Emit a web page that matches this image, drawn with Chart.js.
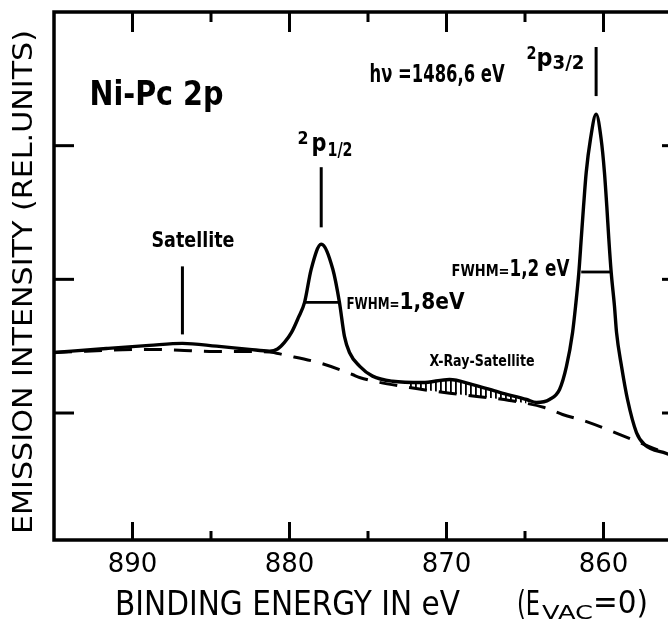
<!DOCTYPE html>
<html><head><meta charset="utf-8">
<script src="https://cdn.jsdelivr.net/npm/chart.js@4.4.1/dist/chart.umd.min.js"></script>
<style>
html,body{margin:0;padding:0;background:#fff;overflow:hidden;width:668px;height:620px;}
#wrap{position:absolute;left:0;top:0;width:700px;height:620px;}
</style></head><body>
<div id="wrap"><canvas id="c" width="700" height="620"></canvas></div>
<script>
// ---- data ----
const spectrumEnergy = [895.0,891.66,888.92,886.82,884.65,882.55,881.27,880.76,880.32,879.87,879.43,879.04,878.62,877.98,877.24,876.82,876.50,876.18,875.54,874.71,873.44,871.53,869.81,868.34,866.62,864.90,864.27,863.44,862.80,862.36,861.97,861.78,861.57,861.42,861.27,861.10,860.83,860.47,860.15,859.94,859.79,859.66,859.51,859.30,859.17,858.85,858.47,857.90,857.39,855.99,855.03];
const spectrumIntensity = [1.453,1.483,1.506,1.521,1.500,1.476,1.463,1.479,1.528,1.603,1.715,1.828,2.075,2.262,2.075,1.828,1.573,1.453,1.351,1.276,1.238,1.228,1.251,1.213,1.154,1.101,1.079,1.101,1.176,1.348,1.603,1.798,2.052,2.300,2.547,2.801,3.049,3.236,3.049,2.801,2.547,2.300,2.052,1.798,1.603,1.348,1.101,0.854,0.764,0.697,0.652];
const backgroundEnergy = [895.0,888.92,887.0,885.1,883.18,881.27,880.32,878.09,875.99,875.54,872.36,869.17,865.99,863.76,862.61,861.08,859.11,857.39,855.99,855.03];
const backgroundIntensity = [1.453,1.476,1.470,1.461,1.461,1.457,1.434,1.375,1.288,1.266,1.191,1.139,1.094,1.041,0.989,0.936,0.846,0.764,0.697,0.652];
const xraySatEnergy = [872.36,871.53,869.81,868.34,866.62,864.90];
const xraySatIntensity = [1.228,1.228,1.251,1.213,1.154,1.101];
const xTickValues = [890,880,870,860];
const xTickLabels = ['890','880','870','860'];
const xMinorTicks = [885,875,865];
const yTickValues = [1,2,3];
const peakMarkers = [ // [energy, from, to]
  [877.98, 2.839, 2.389],
  [886.82, 2.097, 1.588],
  [860.47, 3.738, 3.371]
];
const fwhmBars = [ // [intensity, energy1, energy2]
  [2.055, 861.42, 859.57],
  [1.828, 879.04, 876.82]
];
const notes = [ // text, energy, intensity (baseline-left anchor)
  ['Ni-Pc 2p', 892.74, 3.303],
  ['Satellite', 888.79, 2.240],
  ['h\u03bd =1486,6 eV', 874.90, 3.476],
  ['FWHM=', 869.68, 2.022],
  ['1,2 eV', 865.99, 2.022],
  ['FWHM=', 876.37, 1.775],
  ['1,8eV', 872.99, 1.775],
  ['X-Ray-Satellite', 871.08, 1.348],
  ['2', 879.49, 3.011],
  ['p', 878.60, 2.959],
  ['1/2', 877.58, 2.921],
  ['2', 864.90, 3.648],
  ['p', 864.27, 3.596],
  ['3/2', 863.25, 3.573]
];
// ---- styles for notes (font px, fitted width px) ----
const noteStyle = [[33,134],[22,83],[24,135],[16,58],[23,60],[16,53],[23,65],[15,105],[18,11],[25,15],[19,25],[18,10],[25,16],[19,32]];

const FAM = '"DejaVu Sans Condensed","DejaVu Sans",sans-serif';
const FAMR = '"DejaVu Sans",sans-serif';

function fitText(ctx, s, x, y, font, w) {
  ctx.font = font;
  const m = ctx.measureText(s).width;
  const sx = w ? w / m : 1;
  ctx.save(); ctx.translate(x, y); ctx.scale(sx, 1);
  ctx.textAlign = 'left'; ctx.textBaseline = 'alphabetic';
  ctx.fillText(s, 0, 0); ctx.restore();
}

const canvas = document.getElementById('c');
const pc = document.createElement('canvas'); pc.width = 5; pc.height = 8;
const pg = pc.getContext('2d'); pg.fillStyle = '#000'; pg.fillRect(0, 0, 1.8, 8);
const hatch = canvas.getContext('2d').createPattern(pc, 'repeat');

const decor = {
  id: 'decor',
  afterDatasetsDraw(chart) {
    const ctx = chart.ctx, a = chart.chartArea, xs = chart.scales.x, ys = chart.scales.y;
    ctx.save();
    ctx.strokeStyle = '#000'; ctx.fillStyle = '#000'; ctx.lineCap = 'butt';
    // frame
    ctx.lineWidth = 3.5;
    ctx.strokeRect(a.left, a.top, a.right - a.left, a.bottom - a.top);
    // ticks
    ctx.lineWidth = 3;
    const line = (x1, y1, x2, y2) => { ctx.beginPath(); ctx.moveTo(x1, y1); ctx.lineTo(x2, y2); ctx.stroke(); };
    xs.ticks.forEach(t => { const x = xs.getPixelForValue(t.value); line(x, a.bottom, x, a.bottom - 18); line(x, a.top, x, a.top + 20); });
    xMinorTicks.forEach(v => { const x = xs.getPixelForValue(v); line(x, a.bottom, x, a.bottom - 9); line(x, a.top, x, a.top + 10); });
    yTickValues.forEach(v => { const y = ys.getPixelForValue(v); line(a.left, y, a.left + 20, y); line(a.right, y, a.right - 20, y); });
    // markers
    peakMarkers.forEach(m => { const x = xs.getPixelForValue(m[0]); line(x, ys.getPixelForValue(m[1]), x, ys.getPixelForValue(m[2])); });
    ctx.lineWidth = 2.8;
    fwhmBars.forEach(b => { const y = ys.getPixelForValue(b[0]); line(xs.getPixelForValue(b[1]), y, xs.getPixelForValue(b[2]), y); });
    // tick labels
    xs.ticks.forEach((t, i) => {
      ctx.font = '26px ' + FAMR; ctx.textAlign = 'center'; ctx.textBaseline = 'alphabetic';
      ctx.fillText(xTickLabels[i], xs.getPixelForValue(t.value), a.bottom + 32);
    });
    // notes
    notes.forEach((n, i) => {
      const st = noteStyle[i];
      fitText(ctx, n[0], xs.getPixelForValue(n[1]), ys.getPixelForValue(n[2]), 'bold ' + st[0] + 'px ' + FAM, st[1]);
    });
    // axis titles
    ctx.save(); ctx.translate(32, 534); ctx.rotate(-Math.PI / 2);
    fitText(ctx, 'EMISSION INTENSITY (REL.UNITS)', 0, 0, '27px ' + FAMR, 504);
    ctx.restore();
    fitText(ctx, 'BINDING ENERGY IN eV', 115, 615, '34px ' + FAMR, 345);
    fitText(ctx, '(E', 517, 615, '34px ' + FAMR, 23);
    fitText(ctx, 'VAC', 542, 619, '20px ' + FAMR, 51);
    fitText(ctx, '=0)', 593, 613, '32px ' + FAMR, 55);
    ctx.restore();
  }
};

const pts = (xa, ya) => xa.map((e, i) => ({ x: e, y: ya[i] }));

new Chart(canvas, {
  type: 'line',
  data: {
    datasets: [
      { label: 'spectrum', data: pts(spectrumEnergy, spectrumIntensity), borderColor: '#000', borderWidth: 3.4, pointRadius: 0, cubicInterpolationMode: 'monotone', fill: false },
      { label: 'background', data: pts(backgroundEnergy, backgroundIntensity), borderColor: '#000', borderWidth: 3, borderDash: [18, 12], pointRadius: 0, cubicInterpolationMode: 'monotone', fill: false },
      { label: 'x-ray satellite', data: pts(xraySatEnergy, xraySatIntensity), borderWidth: 0, borderColor: 'rgba(0,0,0,0)', pointRadius: 0, cubicInterpolationMode: 'monotone', fill: 1, backgroundColor: hatch }
    ]
  },
  options: {
    responsive: false, animation: false, devicePixelRatio: 1,
    layout: { padding: { left: 54, top: 12, right: 18, bottom: 80 } },
    plugins: { legend: { display: false }, tooltip: { enabled: false }, filler: { propagate: false } },
    scales: {
      x: { type: 'linear', reverse: true, min: 855, max: 895,
           afterBuildTicks: s => { s.ticks = xTickValues.map(v => ({ value: v })); },
           ticks: { display: false }, grid: { display: false }, border: { display: false },
           afterFit: s => { s.height = 0; } },
      y: { type: 'linear', min: 0.05, max: 4,
           ticks: { display: false }, grid: { display: false }, border: { display: false },
           afterFit: s => { s.width = 0; } }
    }
  },
  plugins: [decor]
});
</script>
</body></html>
